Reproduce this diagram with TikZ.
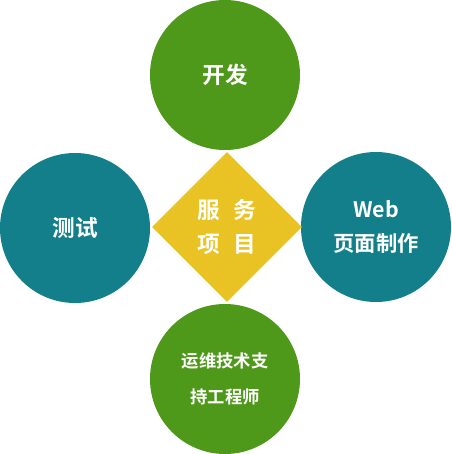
\documentclass[tikz,border=0pt]{standalone}
\usepackage{fontspec}
\newfontfamily\cjk{Noto Sans CJK SC Bold}
\usetikzlibrary{shapes.geometric}
\definecolor{leafgreen}{RGB}{78,152,26}
\definecolor{seateal}{RGB}{19,127,138}
\definecolor{goldyellow}{RGB}{232,195,35}
\tikzset{
  service circle/.style={
    circle, minimum size=150*0.75pt, inner sep=0pt,
    text=white, align=center, font=\cjk
  },
  service diamond/.style={
    diamond, fill=goldyellow, minimum size=150*0.75pt, inner sep=0pt,
    text=white, align=center, font=\cjk\fontsize{17}{25}\selectfont
  }
}

\begin{document}
\begin{tikzpicture}[x=0.75pt, y=-0.75pt]
    % Bounding box
    \useasboundingbox (0,0) rectangle (452,454);

    % Four circles round the centre
    \node[service circle, fill=leafgreen, font=\cjk\fontsize{17}{20}\selectfont] (dev) at (225,75) {开发};
    \node[service circle, fill=seateal, font=\cjk\fontsize{17}{20}\selectfont] (test) at (75,228) {测试};
    \node[service circle, fill=seateal, font=\cjk\fontsize{16}{26}\selectfont] (web) at (376,227) {Web\\页面制作};
    \node[service circle, fill=leafgreen, font=\cjk\fontsize{13}{27}\selectfont] (ops) at (225,379) {运维技术支\\持工程师};

    % Centre diamond
    \node[service diamond] (centre) at (227,227) {服\hspace{0.6em}务\\项\hspace{0.6em}目};
\end{tikzpicture}
\end{document}
